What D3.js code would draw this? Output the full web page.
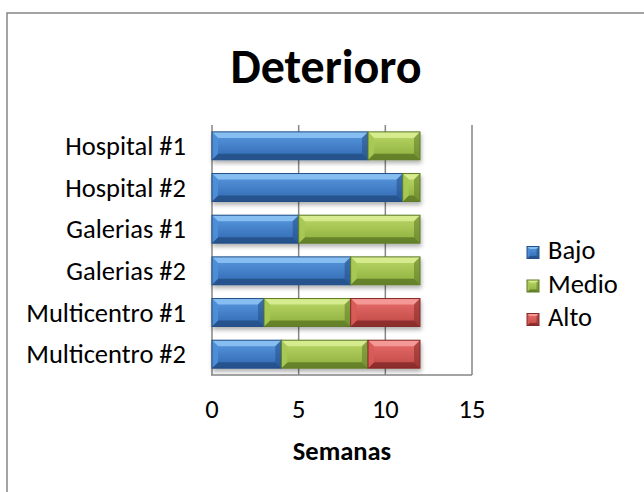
<!DOCTYPE html>
<html>
<head>
<meta charset="utf-8">
<script src="https://cdn.jsdelivr.net/npm/d3@7"></script>
<style>
  body { margin: 0; background: #fff; }
  text { font-family: Carlito, Calibri, Lato, sans-serif; }
</style>
</head>
<body>
<div id="chart"></div>
<script>
// data
let categories = ["Hospital #1", "Hospital #2", "Galerias #1", "Galerias #2", "Multicentro #1", "Multicentro #2"];
let seriesNames = ["Bajo", "Medio", "Alto"];
let bajo = [9, 11, 5, 8, 3, 4];
let medio = [3, 1, 7, 4, 5, 5];
let alto = [0, 0, 0, 0, 4, 3];
let xTicks = [0, 5, 10, 15];

// colours per series: face top, face bottom, light bevel, dark bevel
let colors = {
  "Bajo":  {top: "#5a9ae0", bottom: "#2f67b0", light: "#8fc6f6", dark: "#244f86", side: "#4f8fd8"},
  "Medio": {top: "#bcd967", bottom: "#8cad3d", light: "#dcf096", dark: "#5e7a27", side: "#a9c955"},
  "Alto":  {top: "#ea6f6c", bottom: "#bd4744", light: "#f7a19f", dark: "#852a28", side: "#d85b58"}
};

let rows = [];
for (let i = 0; i < categories.length; i++) {
  rows.push({cat: categories[i], Bajo: bajo[i], Medio: medio[i], Alto: alto[i]});
}
let stacked = d3.stack().keys(seriesNames)(rows);

let width = 644;
let height = 492;
let margin = {"top": 125, "bottom": 117, "left": 212, "right": 172};
let fontSize = "26.5px";

let svg = d3.select("#chart")
  .append("svg")
  .attr("width", width)
  .attr("height", height);

let defs = svg.append("defs");
seriesNames.forEach(function(s) {
  let g = defs.append("linearGradient")
    .attr("id", "grad-" + s)
    .attr("x1", 0).attr("y1", 0).attr("x2", 0).attr("y2", 1);
  g.append("stop").attr("offset", "0%").attr("stop-color", colors[s].top);
  g.append("stop").attr("offset", "100%").attr("stop-color", colors[s].bottom);
});
let shadow = defs.append("filter").attr("id", "shadow")
  .attr("x", "-10%").attr("y", "-20%").attr("width", "120%").attr("height", "160%");
shadow.append("feDropShadow")
  .attr("dx", 1).attr("dy", 3).attr("stdDeviation", 2)
  .attr("flood-color", "#000").attr("flood-opacity", 0.3);

// outer frame
svg.append("rect")
  .attr("x", 7).attr("y", 13)
  .attr("width", 700).attr("height", 600)
  .attr("fill", "none")
  .attr("stroke", "#878787")
  .attr("stroke-width", 1.5);

// scales
let xScale = d3.scaleLinear()
  .domain([0, 15])
  .range([margin.left, width - margin.right]);

let yScale = d3.scaleBand()
  .domain(categories)
  .range([margin.top, height - margin.bottom])
  .paddingInner(0.33)
  .paddingOuter(0.165);

// gridlines
svg.append("g")
  .selectAll("line")
  .data(xTicks)
  .enter()
  .append("line")
  .attr("x1", function(d) { return xScale(d); })
  .attr("x2", function(d) { return xScale(d); })
  .attr("y1", margin.top)
  .attr("y2", height - margin.bottom)
  .attr("stroke", "#868686")
  .attr("stroke-width", 1.5);

// bottom axis line
svg.append("line")
  .attr("x1", xScale(0) - 1)
  .attr("x2", xScale(15))
  .attr("y1", height - margin.bottom)
  .attr("y2", height - margin.bottom)
  .attr("stroke", "#868686")
  .attr("stroke-width", 1.5);

// x tick labels
svg.append("g")
  .selectAll("text")
  .data(xTicks)
  .enter()
  .append("text")
  .attr("x", function(d) { return xScale(d); })
  .attr("y", 418)
  .attr("text-anchor", "middle")
  .attr("font-size", fontSize)
  .attr("fill", "#000")
  .text(function(d) { return d; });

// y category labels
svg.append("g")
  .selectAll("text")
  .data(categories)
  .enter()
  .append("text")
  .attr("x", margin.left - 26)
  .attr("y", function(d) { return yScale(d) + yScale.bandwidth() / 2 + 9; })
  .attr("text-anchor", "end")
  .attr("font-size", fontSize)
  .attr("fill", "#000")
  .text(function(d) { return d; });

// bevelled block
function bevelBlock(g, x0, x1, y, h, s, b) {
  let w = x1 - x0;
  if (w <= 0) return;
  let c = colors[s];
  b = Math.min(b, w / 2, h / 2);
  g.append("rect")
    .attr("x", x0).attr("y", y).attr("width", w).attr("height", h)
    .attr("fill", "url(#grad-" + s + ")");
  // top
  g.append("polygon")
    .attr("points", [[x0, y], [x1, y], [x1 - b, y + b], [x0 + b, y + b]].join(" "))
    .attr("fill", c.light).attr("opacity", 0.85);
  // bottom
  g.append("polygon")
    .attr("points", [[x0, y + h], [x1, y + h], [x1 - b, y + h - b], [x0 + b, y + h - b]].join(" "))
    .attr("fill", c.dark).attr("opacity", 0.85);
  // left
  g.append("polygon")
    .attr("points", [[x0, y], [x0 + b, y + b], [x0 + b, y + h - b], [x0, y + h]].join(" "))
    .attr("fill", c.side).attr("opacity", 0.9);
  // right
  g.append("polygon")
    .attr("points", [[x1, y], [x1 - b, y + b], [x1 - b, y + h - b], [x1, y + h]].join(" "))
    .attr("fill", c.dark).attr("opacity", 0.55);
  g.append("rect")
    .attr("x", x0).attr("y", y).attr("width", w).attr("height", h)
    .attr("fill", "none")
    .attr("stroke", c.dark).attr("stroke-width", 1);
}

// bars
let barRows = svg.append("g")
  .selectAll("g")
  .data(categories)
  .enter()
  .append("g")
  .attr("filter", "url(#shadow)");

barRows.each(function(cat, i) {
  let g = d3.select(this);
  stacked.forEach(function(layer) {
    let d = layer[i];
    bevelBlock(g, xScale(d[0]), xScale(d[1]), yScale(cat), yScale.bandwidth(), layer.key, 6);
  });
});

// title
svg.append("text")
  .attr("x", 326)
  .attr("y", 83)
  .attr("text-anchor", "middle")
  .attr("font-size", "48px")
  .attr("font-weight", "bold")
  .attr("fill", "#000")
  .text("Deterioro");

// x axis title
svg.append("text")
  .attr("x", (xScale(0) + xScale(15)) / 2)
  .attr("y", 460)
  .attr("text-anchor", "middle")
  .attr("font-size", fontSize)
  .attr("font-weight", "bold")
  .attr("fill", "#000")
  .text("Semanas");

// legend
let legendY = [252.5, 286, 319.5];
let legend = svg.append("g")
  .selectAll("g")
  .data(seriesNames)
  .enter()
  .append("g");

legend.each(function(s, i) {
  let g = d3.select(this);
  bevelBlock(g, 527, 539, legendY[i] - 6, 12, s, 2.5);
  g.append("text")
    .attr("x", 548)
    .attr("y", legendY[i] + 6.5)
    .attr("font-size", fontSize)
    .attr("fill", "#000")
    .text(s);
});
</script>
</body>
</html>
